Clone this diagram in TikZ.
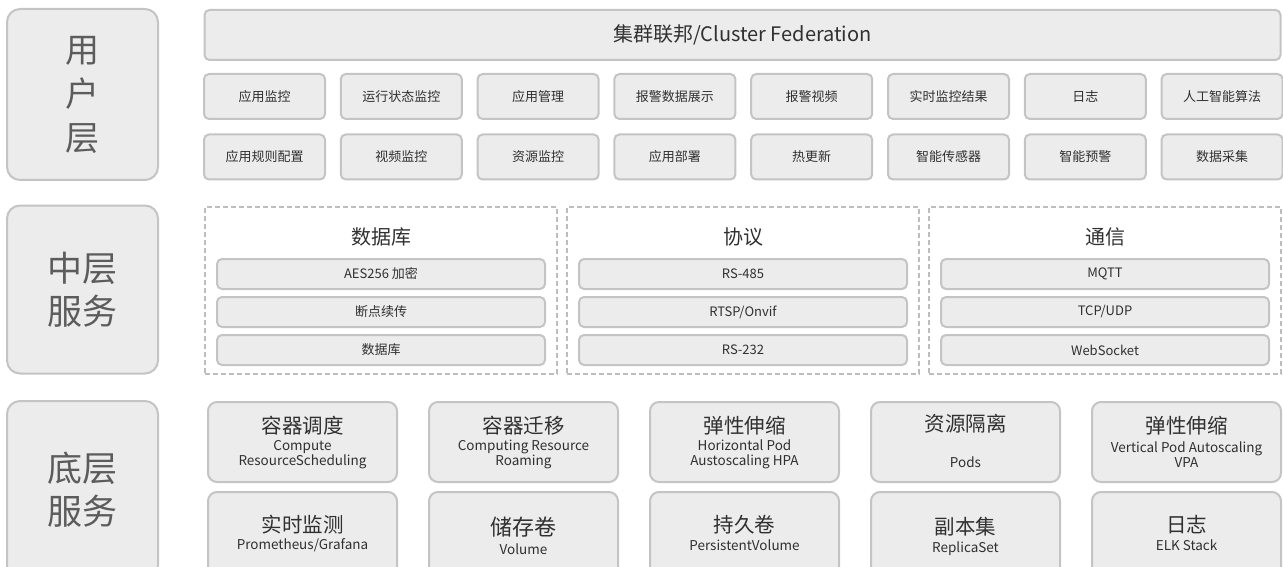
\documentclass[tikz,border=0pt]{standalone}
\usepackage{fontspec}
\setmainfont{Noto Sans CJK SC}
\definecolor{boxfill}{HTML}{EDECEC}
\definecolor{boxline}{HTML}{C4C4C4}
\definecolor{dashline}{HTML}{BDBDBD}
\definecolor{bigtxt}{HTML}{5C5C5C}
\definecolor{smalltxt}{HTML}{303030}
\begin{document}
\begin{tikzpicture}[x=1pt,y=-1pt,
  sbox/.style={draw=boxline,fill=boxfill,line width=2pt,rounded corners=5pt,inner sep=0pt,text=smalltxt,font=\fontsize{13}{15}\selectfont},
  layerbox/.style={draw=boxline,fill=boxfill,line width=2pt,rounded corners=13pt,inner sep=0pt,text=bigtxt,align=center},
  cardbox/.style={draw=boxline,fill=boxfill,line width=2pt,rounded corners=9pt,inner sep=0pt},
  dashbox/.style={draw=dashline,line width=1.6pt,dash pattern=on 5pt off 3pt,inner sep=0pt},
  ttl/.style={text=smalltxt,inner sep=0pt,font=\fontsize{20.5}{22}\selectfont},
  sub/.style={text=smalltxt,inner sep=0pt,font=\fontsize{13.5}{16}\selectfont,align=center}]
\useasboundingbox (0,0) rectangle (1283,567);

% ---------- left layer labels ----------
\node[layerbox,minimum width=151,minimum height=171,font=\fontsize{34}{44}\selectfont] (lu) at (82.5,94.5) {用\\户\\层};
\node[layerbox,minimum width=151,minimum height=168,font=\fontsize{35}{43}\selectfont] (lm) at (82.5,289.5) {中层\\服务};
\node[layerbox,minimum width=151,minimum height=178,font=\fontsize{35}{43}\selectfont] (lb) at (82.5,490) {底层\\服务};

% ---------- user layer ----------
\node[sbox,minimum width=1076,minimum height=50,font=\fontsize{20}{22}\selectfont] (fed) at (742.5,35) {集群联邦/Cluster Federation};
\foreach \t [count=\i from 0] in {应用监控,运行状态监控,应用管理,报警数据展示,报警视频,实时监控结果,日志,人工智能算法}
  \node[sbox,minimum width=121,minimum height=45] (ua\i) at ({264.5+\i*136.8},96.5) {\t};
\foreach \t [count=\i from 0] in {应用规则配置,视频监控,资源监控,应用部署,热更新,智能传感器,智能预警,数据采集}
  \node[sbox,minimum width=121,minimum height=45] (ub\i) at ({264.5+\i*136.8},157) {\t};

% ---------- middle layer ----------
\foreach \t/\a/\b/\c [count=\i from 0] in {数据库/AES256 加密/断点续传/数据库, 协议/RS-485/RTSP\slash Onvif/RS-232, 通信/MQTT/TCP\slash UDP/WebSocket}{
  \node[dashbox,minimum width=352,minimum height=167] (md\i) at ({381+\i*362},290.5) {};
  \node[ttl,font=\fontsize{20}{22}\selectfont] (mt\i) at ({381+\i*362},237) {\t};
  \node[sbox,minimum width=328,minimum height=30] (ma\i) at ({381+\i*362},274) {\a};
  \node[sbox,minimum width=328,minimum height=30] (mb\i) at ({381+\i*362},312) {\b};
  \node[sbox,minimum width=328,minimum height=30] (mc\i) at ({381+\i*362},350) {\c};
}

% ---------- bottom layer ----------
\foreach \i in {0,...,4}{
  \node[cardbox,minimum width=189,minimum height=80] (ba\i) at ({302.5+\i*221},442) {};
  \node[cardbox,minimum width=189,minimum height=88] (bb\i) at ({302.5+\i*221},536) {};
}
% row 1 texts
\node[ttl] (t0) at (302.5,426) {容器调度};
\node[sub] (s0) at (302.5,454.5) {Compute\\[-1pt]ResourceScheduling};
\node[ttl] (t1) at (523.5,426) {容器迁移};
\node[sub] (s1) at (523.5,454.5) {Computing Resource\\[-1pt]Roaming};
\node[ttl] (t2) at (744.5,426) {弹性伸缩};
\node[sub] (s2) at (744.5,454.5) {Horizontal Pod\\[-1pt]Austoscaling HPA};
\node[ttl] (t3) at (965.5,424) {资源隔离};
\node[sub] (s3) at (965.5,462) {Pods};
\node[ttl] (t4) at (1186.5,426) {弹性伸缩};
\node[sub] (s4) at (1186.5,454.5) {Vertical Pod Autoscaling\\[-1pt]VPA};
% row 2 texts
\node[ttl] (r0) at (302.5,524.5) {实时监测};
\node[sub] (q0) at (302.5,545.5) {Prometheus/Grafana};
\node[ttl,font=\fontsize{22}{24}\selectfont] (r1) at (523.5,527) {储存卷};
\node[sub] (q1) at (523.5,549) {Volume};
\node[ttl] (r2) at (744.5,524.5) {持久卷};
\node[sub] (q2) at (744.5,545.5) {PersistentVolume};
\node[ttl] (r3) at (965.5,527) {副本集};
\node[sub] (q3) at (965.5,548.5) {ReplicaSet};
\node[ttl] (r4) at (1186.5,524.5) {日志};
\node[sub] (q4) at (1186.5,545.5) {ELK Stack};
\end{tikzpicture}
\end{document}
